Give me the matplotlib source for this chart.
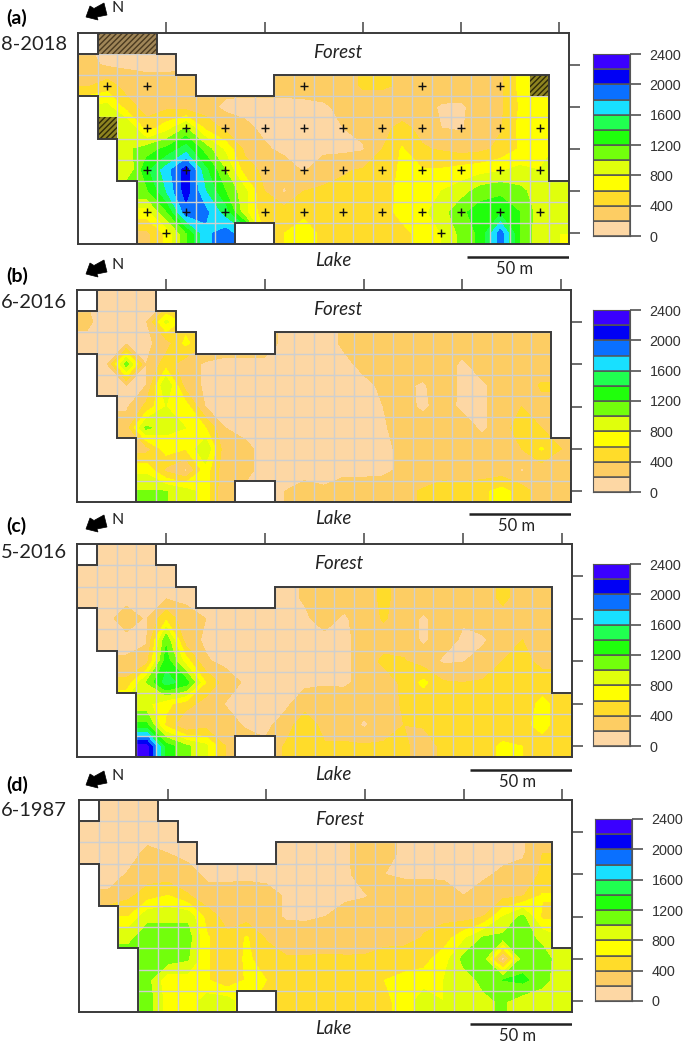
import numpy as np
import matplotlib
matplotlib.use("Agg")
import matplotlib.pyplot as plt
from matplotlib.patches import Polygon, Rectangle

W, H = 685, 1042

# concentration read at the cell centres, 10 rows x 25 columns (top row first)
# cells outside the plot outline just repeat their neighbour
data_a = [
    [200,200,180,160,150,150,150,150,150,150,300,300,300,300,300,300,300,300,300,300,300,300,300,300,300],
    [250,170,170,150,170,170,200,250,250,280,300,280,300,320,420,420,380,300,300,300,300,350,650,700,700],
    [380,500,300,280,250,280,280,280,280,280,300,280,300,320,420,420,380,300,300,300,300,350,650,700,700],
    [850,850,500,300,350,300,280,150,130,130,120,150,170,250,300,300,280,260,180,170,280,350,620,650,650],
    [1000,1000,1000,500,700,1000,550,350,250,150,150,170,170,200,250,350,450,350,200,180,300,380,650,700,720],
    [950,950,950,1100,1250,1500,1100,750,350,230,150,150,150,150,180,400,620,420,380,320,350,450,620,750,820],
    [800,800,800,1350,1700,2100,1450,1000,500,350,300,180,320,380,420,450,650,620,620,680,720,780,850,800,850],
    [1200,1200,1200,1150,1600,2100,1600,1200,850,400,170,400,430,450,460,480,680,750,800,900,1100,1150,1050,900,850],
    [700,700,700,700,1150,1900,1850,1500,850,450,500,550,500,450,480,530,650,750,900,1150,1300,1350,1200,900,850],
    [350,350,350,350,650,1150,1750,1900,1650,600,600,700,550,450,450,480,550,650,800,1050,1250,1900,1200,850,800],
]
data_b = [
    [200,150,150,150,150,150,150,150,150,150,150,150,150,150,150,150,150,150,150,150,150,150,150,150,150],
    [220,150,150,180,850,500,300,300,300,300,150,130,150,220,280,280,280,280,280,280,280,280,280,280,280],
    [170,150,150,150,300,650,400,300,300,300,150,130,150,220,250,280,280,280,280,280,280,280,280,280,280],
    [170,170,1100,200,500,280,170,150,150,150,150,150,150,170,230,280,280,280,280,170,280,280,280,280,280],
    [170,170,190,200,1000,300,170,150,150,150,150,150,150,170,170,220,230,180,280,170,170,280,280,420,420],
    [170,170,170,450,800,700,190,150,150,150,150,150,150,150,150,200,260,170,260,170,170,270,400,350,350],
    [300,300,300,1050,850,800,600,200,150,150,150,150,150,150,150,180,270,280,280,280,170,280,550,400,400],
    [300,300,300,300,700,600,1000,250,240,150,150,150,150,150,150,180,220,280,280,280,280,280,400,620,400],
    [750,750,750,750,350,160,700,250,240,150,150,150,150,150,150,170,230,280,300,280,280,280,180,280,280],
    [1010,1010,1010,1010,1010,900,700,220,170,150,200,250,220,300,300,280,350,420,500,500,550,680,500,300,280],
]
data_c = [
    [140,140,140,140,140,140,140,140,140,140,140,140,140,140,140,140,140,140,140,140,140,140,140,140,140],
    [140,140,140,140,140,140,140,140,140,140,150,220,280,280,300,450,300,300,300,300,300,450,300,300,300],
    [140,140,140,150,170,170,150,150,150,150,150,220,280,280,300,450,300,300,300,300,300,450,300,300,300],
    [150,150,280,180,550,250,200,150,150,150,150,170,270,170,300,420,300,170,300,220,300,320,330,330,330],
    [130,130,150,170,1150,280,170,150,150,150,150,150,150,150,280,300,300,170,280,170,170,300,400,400,400],
    [220,220,220,300,1300,700,220,150,150,150,150,150,150,150,280,450,420,300,170,190,280,400,420,380,380],
    [450,450,450,1000,1500,1300,600,300,170,170,170,170,170,170,250,280,450,650,420,400,420,430,430,430,430],
    [850,850,850,850,650,500,300,190,170,170,170,270,350,300,280,280,430,450,430,530,530,430,430,680,450],
    [1250,1250,1250,1250,550,190,320,280,180,170,250,580,300,300,170,300,400,420,430,430,430,430,520,700,430],
    [2300,2300,2300,2300,1300,1050,850,400,300,220,420,430,430,430,430,430,450,280,450,450,480,650,600,450,450],
]
data_d = [
    [140,140,140,140,140,140,140,140,140,140,140,140,140,140,140,140,140,140,140,140,140,140,140,140,140],
    [140,140,140,140,140,140,140,140,140,140,150,150,150,170,280,250,170,150,150,150,150,150,170,400,400],
    [130,130,150,230,200,160,160,150,150,150,150,150,150,170,280,250,170,150,150,150,150,150,170,400,400],
    [150,150,210,300,280,250,170,150,150,150,150,150,150,170,270,200,170,170,170,160,170,230,280,430,430],
    [220,220,350,500,600,420,250,280,300,260,180,170,170,170,190,260,300,300,270,200,270,320,380,620,620],
    [600,600,600,950,950,950,520,310,310,260,180,170,200,260,270,300,300,330,350,300,400,800,1050,550,550],
    [950,950,950,1100,1100,1100,620,450,620,380,300,300,300,310,320,320,300,420,500,750,1020,1050,1080,950,800],
    [1100,1100,1100,1100,1100,1020,620,430,640,500,420,420,430,420,420,500,550,540,700,1060,1050,100,1080,1080,900],
    [1050,1050,1050,1050,650,700,620,450,620,600,430,430,430,520,600,600,630,680,800,900,1050,1200,1250,1080,850],
    [1100,1100,1100,1100,700,680,900,900,650,520,430,440,440,450,500,570,650,950,800,850,950,1030,880,850,820],
]

levels = [0,200,400,600,800,1000,1200,1400,1600,1800,2000,2200,2400]
band_colors = ["#FDD7A4","#FDCD63","#FFDC2A","#FFFF00","#E0FF0C","#72FF0C","#20FF0C",
               "#20FF50","#18E0FF","#0A70FF","#0000F5","#3A00FF"]
cbar_labels = ["0","400","800","1200","1600","2000","2400"]

# plot outline in grid units
outline = [(1,0),(4,0),(4,1),(5,1),(5,2),(6,2),(6,3),(10,3),(10,2),(24,2),(24,7),(25,7),(25,10),
           (10,10),(10,9),(8,9),(8,10),(3,10),(3,7),(2,7),(2,5),(1,5),(1,3),(0,3),(0,1),(1,1)]

# sampling points of panel a
cross_cols = [3,5,7,9,11,13,15,17,19,21,23]
cross_rows = [4,6,8]
cross_extra_col = [1,3,11,17,21,4,18]
cross_extra_row = [2,2,2,2,2,9,9]

# where things are, in pixels of the figure
# frame x0,x1,y0,y1 / colorbar x0,x1,y0,y1
panels = [
    dict(d=data_a, fr=(78,569,33,244), cb=(593,630,54,236), tag="(a)", tagy=18, date="8-2018", datey=44, ar=0, lake=261),
    dict(d=data_b, fr=(77,571,290,502), cb=(593,630,310,492), tag="(b)", tagy=276, date="6-2016", datey=303, ar=257, lake=518),
    dict(d=data_c, fr=(77,572,544,757), cb=(593,630,564,746), tag="(c)", tagy=526, date="5-2016", datey=552, ar=512, lake=774),
    dict(d=data_d, fr=(79,572,800,1012), cb=(595,632,819,1001), tag="(d)", tagy=785, date="6-1987", datey=811, ar=768, lake=1028),
]


def rect_px(x0, x1, y0, y1):
    return [x0/W, 1-y1/H, (x1-x0)/W, (y1-y0)/H]


def px_text(x, y, s, **kw):
    kw.setdefault("va", "center")
    kw.setdefault("color", "#222222")
    fig.text(x/W, 1-y/H, s, **kw)


fig = plt.figure(figsize=(W/100, H/100), dpi=100)

xc = np.concatenate([[0], np.arange(25)+0.5, [25]])
yc = np.concatenate([[0], np.arange(10)+0.5, [10]])

for n, p in enumerate(panels):
    x0, x1, y0, y1 = p["fr"]
    ax = fig.add_axes(rect_px(x0, x1, y0, y1))
    z = np.pad(np.array(p["d"], dtype=float), 1, mode="edge")

    shape = Polygon(outline, closed=True, fill=False, ec="#3a3a3a", lw=1.4, zorder=5)
    ax.add_patch(shape)
    cs = ax.contourf(xc, yc, z, levels=levels, colors=band_colors, zorder=1)
    cs.set_clip_path(shape)

    # grey grid only inside the outline
    for i in range(1, 25):
        l = ax.plot([i, i], [0, 10], color="#CFCFCF", lw=1.0, zorder=3)[0]
        l.set_clip_path(shape)
    for i in range(1, 10):
        l = ax.plot([0, 25], [i, i], color="#CFCFCF", lw=1.0, zorder=3)[0]
        l.set_clip_path(shape)

    if n == 0:
        ax.add_patch(Rectangle((1, 0), 3, 1, fc="#A08658", ec="#4a3a20", hatch="//////", lw=0, zorder=4))
        ax.add_patch(Rectangle((1, 4), 1, 1, fc="#8E8420", ec="#2e2a08", hatch="//////", lw=0, zorder=4))
        ax.add_patch(Rectangle((23, 2), 1, 1, fc="#8E8420", ec="#2e2a08", hatch="//////", lw=0, zorder=4))
        cx, cy = np.meshgrid(np.array(cross_cols)+0.5, np.array(cross_rows)+0.5)
        ax.plot(cx.ravel(), cy.ravel(), "+", color="#111111", ms=6, mew=1, zorder=6)
        ax.plot(np.array(cross_extra_col)+0.5, np.array(cross_extra_row)+0.5, "+", color="#111111", ms=6, mew=1, zorder=6)

    ax.set_xlim(0, 25)
    ax.set_ylim(10, 0)
    ax.xaxis.tick_top()
    ax.yaxis.tick_right()
    ax.set_xticks([4.5, 9.5, 14.5, 19.5, 24.5])
    ax.set_yticks([1.5, 3.5, 5.5, 7.5, 9.5])
    ax.tick_params(length=8, width=1.1, color="#444444", labeltop=False, labelright=False)
    for s in ax.spines.values():
        s.set_color("#3a3a3a")
        s.set_linewidth(1.4)

    ax.text(13.2, 0.92, "Forest", ha="center", va="center", style="italic", family="Lato", fontsize=13.5, color="#222222")

    # colorbar
    cx0, cx1, cy0, cy1 = p["cb"]
    cax = fig.add_axes(rect_px(cx0, cx1, cy0, cy1))
    for i in range(12):
        cax.barh(levels[i], 1, height=200, left=0, align="edge", color=band_colors[i], ec="#555555", lw=1.1)
    cax.set_xlim(0, 1)
    cax.set_ylim(0, 2400)
    cax.set_xticks([])
    cax.yaxis.tick_right()
    cax.set_yticks(levels[::2])
    cax.set_yticklabels(cbar_labels, family="Liberation Sans", fontsize=10.4, color="#333333")
    cax.tick_params(length=8, width=1.1, color="#444444", pad=6)
    for s in cax.spines.values():
        s.set_color("#555555")

    # panel texts
    px_text(6, p["tagy"], p["tag"], fontsize=14, fontweight="bold", family="Lato", color="black")
    px_text(0.5, p["datey"], p["date"], fontsize=14.5, family="Lato")
    px_text(333, p["lake"], "Lake", ha="center", style="italic", family="Lato", fontsize=13.5)
    sb = fig.add_axes(rect_px(x1-102, x1, p["lake"]-6, p["lake"]-2))
    sb.axis("off")
    sb.plot([0, 1], [0.5, 0.5], color="#222222", lw=1.8, solid_capstyle="butt")
    sb.set_xlim(0, 1)
    px_text(x1-54, p["lake"]+8, "50 m", ha="center", family="Lato", fontsize=12)

    # north arrow
    ya = p["ar"]
    px_text(118, ya+8, "N", ha="center", family="Lato", fontsize=11.5)
    fig.add_artist(Polygon([(86/W, 1-(ya+17)/H), (90/W, 1-(ya+6)/H), (94/W, 1-(ya+8.5)/H), (104/W, 1-(ya+3)/H),
                            (107/W, 1-(ya+15)/H), (97/W, 1-(ya+17)/H), (98/W, 1-(ya+20)/H)],
                           closed=True, fc="black", ec="black", lw=0.5, transform=fig.transFigure))

fig.savefig("out.png", dpi=100)
